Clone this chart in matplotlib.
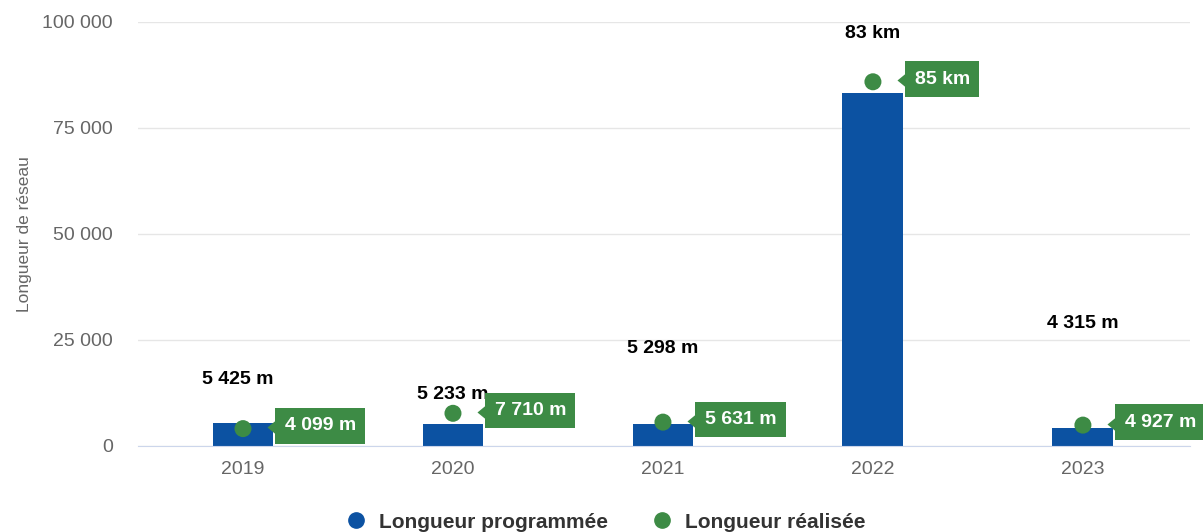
import matplotlib
matplotlib.use("Agg")
import matplotlib.pyplot as plt
import matplotlib.transforms as mtransforms
from matplotlib.ticker import FuncFormatter
from matplotlib.lines import Line2D

# data
years = ["2019", "2020", "2021", "2022", "2023"]
programmee = [5425, 5233, 5298, 83200, 4315]
realisee = [4099, 7710, 5631, 85900, 4927]
prog_labels = ["5 425 m", "5 233 m", "5 298 m", "83 km", "4 315 m"]
real_labels = ["4 099 m", "7 710 m", "5 631 m", "85 km", "4 927 m"]
yticks = [0, 25000, 50000, 75000, 100000]

blue = "#0c52a2"
green = "#3d8b45"
plt.rcParams['font.family'] = ['Liberation Sans', 'DejaVu Sans']

fig = plt.figure(figsize=(12.03, 5.32), dpi=100)
ax = fig.add_axes([138/1203, 86/532, 1052/1203, 424/532])
x = list(range(len(years)))

ax.bar(x, programmee, width=0.29, color=blue, zorder=2)
ax.scatter(x, realisee, s=150, color=green, zorder=3, edgecolors='none')

# programmed labels sit where the chart tool pushed them (offset in points above bar top)
prog_off = [31, 21, 54, 43, 75]
for i in x:
    ax.annotate(prog_labels[i], (x[i], programmee[i]), xytext=(-4 if i == 0 else 0, prog_off[i]),
                textcoords='offset points', ha='center', va='center',
                fontsize=14, fontweight='bold', color='black', zorder=4)

# realised labels: green box with a small pointer on its left
pointer = [(-1, 0), (0.1, 0.9), (0.1, -0.9)]
for i in x:
    ax.annotate(real_labels[i], (x[i], realisee[i]), xytext=(30, 2),
                textcoords='offset points', ha='left', va='center',
                fontsize=14, fontweight='bold', color='white', zorder=5,
                bbox=dict(boxstyle='square,pad=0.48', fc=green, ec='none'))
    tr = mtransforms.offset_copy(ax.transData, fig=fig, x=23.5, y=1, units='points')
    ax.plot([x[i]], [realisee[i]], marker=pointer, markersize=13, color=green,
            transform=tr, zorder=6, markeredgecolor='none', clip_on=False)

ax.set_xlim(-0.5, len(years) - 0.5 + 0.01)
ax.set_ylim(0, 100000)
ax.set_xticks(x)
ax.set_xticklabels(years)
ax.set_yticks(yticks)
ax.yaxis.set_major_formatter(FuncFormatter(lambda v, p: f"{int(v):,}".replace(",", " ")))
ax.tick_params(axis='y', length=0, pad=18, labelsize=14, labelcolor='#666666')
ax.tick_params(axis='x', length=0, pad=11, labelsize=14, labelcolor='#666666')
ax.grid(axis='y', color='#e6e6e6', linewidth=1, zorder=0)
ax.set_axisbelow(True)
for s in ['top', 'right', 'left']:
    ax.spines[s].set_visible(False)
ax.spines['bottom'].set_color('#ccd6eb')
ax.set_ylabel("Longueur de réseau", fontsize=12.5, color='#666666')
ax.yaxis.set_label_coords(-0.101, 0.5)

handles = [Line2D([], [], marker='o', linestyle='', color=blue, markersize=11),
           Line2D([], [], marker='o', linestyle='', color=green, markersize=11)]
fig.legend(handles, ["Longueur programmée", "Longueur réalisée"], loc='center',
           bbox_to_anchor=(600/1203, 1 - 522/532), ncol=2, frameon=False,
           prop={'weight': 'bold', 'size': 15}, labelcolor='#333333',
           handletextpad=0.1, columnspacing=1.6)

fig.savefig("out.png", dpi=100)
